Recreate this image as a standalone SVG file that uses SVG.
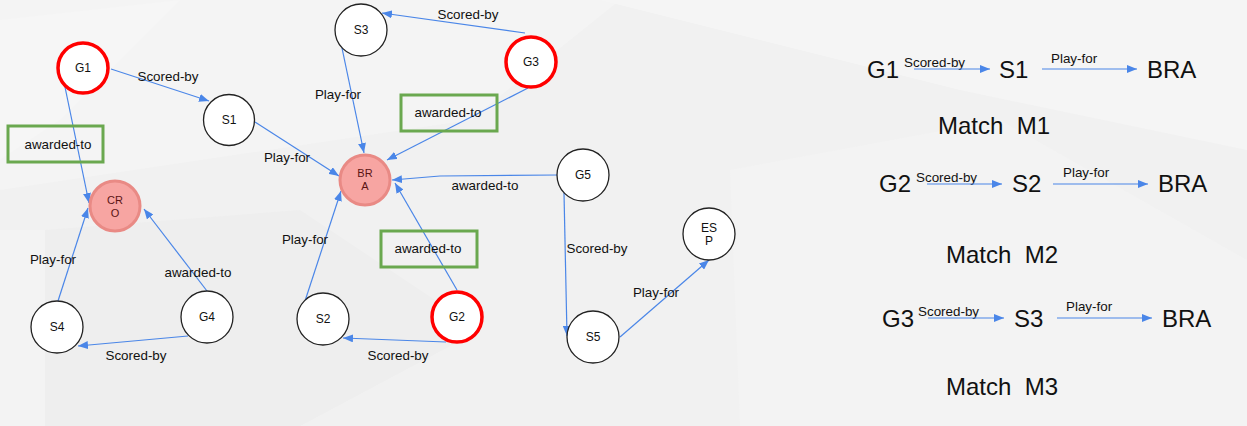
<svg xmlns="http://www.w3.org/2000/svg" width="1247" height="426" viewBox="0 0 1247 426">
<style>
  text { font-family: "Liberation Sans", Arial, sans-serif; fill: #111; }
  .node { fill: #fff; stroke: #222; stroke-width: 1.3; }
  .goal { fill: #fff; stroke: #f00; stroke-width: 3.5; }
  .team { fill: #f7a5a2; stroke: #e98a85; stroke-width: 3; }
  .nl { font-size: 12px; text-anchor: middle; }
  .tl { font-size: 11px; text-anchor: middle; fill: #5a1414; }
  .el { font-size: 13.4px; text-anchor: middle; }
  .box { fill: none; stroke: #6aa84f; stroke-width: 3; }
  .edge { stroke: #4a86e8; stroke-width: 1.2; fill: none; marker-end: url(#arr); }
  .big { font-size: 24px; }
  .sm { font-size: 13.4px; }
</style>
<defs>
  <marker id="arr" markerUnits="userSpaceOnUse" markerWidth="11" markerHeight="8" refX="10" refY="4" orient="auto">
    <path d="M0,0 L10,4 L0,8 z" fill="#4a86e8"/>
  </marker>
</defs>
<g id="background">
  <rect x="0" y="0" width="1247" height="426" fill="#f1f1f1"/>
  <polygon points="0,0 620,0 470,120 0,190" fill="#f4f4f4"/>
  <polygon points="0,20 180,0 60,120 0,160" fill="#f6f6f6"/>
  <polygon points="45,230 300,210 480,330 300,426 45,426" fill="#eeeeee"/>
  <polygon points="0,230 45,230 45,426 0,426" fill="#f3f3f3"/>
  <polygon points="600,0 1247,0 1247,150 960,90" fill="#f5f5f5"/>
  <polygon points="730,170 1000,120 1247,260 1247,426 740,426" fill="#f3f3f3"/>
</g>
<g id="connectors">
  <line class="edge" x1="111" y1="69" x2="209" y2="101"/>
  <line class="edge" x1="65" y1="87" x2="89" y2="203"/>
  <line class="edge" x1="255" y1="122" x2="339" y2="176"/>
  <line class="edge" x1="58" y1="301" x2="88" y2="208"/>
  <line class="edge" x1="207" y1="291" x2="144" y2="209"/>
  <line class="edge" x1="188" y1="336" x2="78" y2="346"/>
  <line class="edge" x1="342" y1="48" x2="364" y2="153"/>
  <line class="edge" x1="525" y1="33" x2="382" y2="13"/>
  <line class="edge" x1="528" y1="88" x2="387" y2="160"/>
  <polyline class="edge" points="558,175 440,176 392,180"/>
  <line class="edge" x1="305" y1="301" x2="341" y2="191"/>
  <line class="edge" x1="457" y1="290" x2="395" y2="183"/>
  <line class="edge" x1="446" y1="342" x2="343" y2="338"/>
  <line class="edge" x1="564" y1="193" x2="567" y2="336"/>
  <line class="edge" x1="620" y1="337" x2="709" y2="260"/>
  <text class="el" x="168" y="81">Scored-by</text>
  <text class="el" x="287" y="162">Play-for</text>
  <text class="el" x="53" y="264">Play-for</text>
  <text class="el" x="198" y="277">awarded-to</text>
  <text class="el" x="136" y="360">Scored-by</text>
  <text class="el" x="468" y="19">Scored-by</text>
  <text class="el" x="338" y="99">Play-for</text>
  <text class="el" x="485" y="190">awarded-to</text>
  <text class="el" x="305" y="244">Play-for</text>
  <text class="el" x="398" y="360">Scored-by</text>
  <text class="el" x="597" y="253">Scored-by</text>
  <text class="el" x="656" y="297">Play-for</text>
</g>
<g id="box1"><rect class="box" x="8" y="126" width="95" height="36"/><text class="el" x="58" y="149">awarded-to</text></g>
<g id="box2"><rect class="box" x="401" y="95" width="96" height="36"/><text class="el" x="448" y="117">awarded-to</text></g>
<g id="box3"><rect class="box" x="381" y="231" width="96" height="36"/><text class="el" x="428" y="253">awarded-to</text></g>
<g id="G1"><circle class="goal" cx="83" cy="68" r="25"/><text class="nl" x="83" y="72">G1</text></g>
<g id="S1"><circle class="node" cx="229" cy="120" r="25.5"/><text class="nl" x="229" y="124">S1</text></g>
<g id="CRO"><circle class="team" cx="115" cy="206" r="25"/><text class="tl" x="115" y="204">CR</text><text class="tl" x="115" y="217">O</text></g>
<g id="S4"><circle class="node" cx="57" cy="327" r="26"/><text class="nl" x="57" y="331">S4</text></g>
<g id="G4"><circle class="node" cx="207" cy="317" r="26"/><text class="nl" x="207" y="321">G4</text></g>
<g id="S3"><circle class="node" cx="361" cy="30" r="26"/><text class="nl" x="361" y="34">S3</text></g>
<g id="G3"><circle class="goal" cx="531" cy="62" r="25"/><text class="nl" x="531" y="66">G3</text></g>
<g id="BRA"><circle class="team" cx="365" cy="180" r="25"/><text class="tl" x="365" y="177">BR</text><text class="tl" x="365" y="190">A</text></g>
<g id="G5"><circle class="node" cx="583" cy="175" r="26"/><text class="nl" x="583" y="179">G5</text></g>
<g id="S2"><circle class="node" cx="323" cy="319" r="26"/><text class="nl" x="323" y="323">S2</text></g>
<g id="G2"><circle class="goal" cx="457" cy="317" r="25"/><text class="nl" x="457" y="321">G2</text></g>
<g id="S5"><circle class="node" cx="593" cy="337" r="26"/><text class="nl" x="593" y="341">S5</text></g>
<g id="ESP"><circle class="node" cx="709" cy="234" r="26"/><text class="nl" x="709" y="232">ES</text><text class="nl" x="709" y="245">P</text></g>
<g id="match1">
  <text class="big" x="867" y="78">G1</text>
  <text class="sm" x="904" y="67">Scored-by</text>
  <line class="edge" x1="914" y1="69" x2="990" y2="69"/>
  <text class="big" x="999" y="78">S1</text>
  <text class="sm" x="1051" y="63">Play-for</text>
  <line class="edge" x1="1042" y1="69" x2="1137" y2="69"/>
  <text class="big" x="1147" y="78">BRA</text>
  <text class="big" x="938" y="134" xml:space="preserve">Match  M1</text>
</g>
<g id="match2">
  <text class="big" x="879" y="192">G2</text>
  <text class="sm" x="916" y="182">Scored-by</text>
  <line class="edge" x1="927" y1="184" x2="1002" y2="184"/>
  <text class="big" x="1012" y="192">S2</text>
  <text class="sm" x="1063" y="177">Play-for</text>
  <line class="edge" x1="1053" y1="184" x2="1148" y2="184"/>
  <text class="big" x="1158" y="192">BRA</text>
  <text class="big" x="946" y="263" xml:space="preserve">Match  M2</text>
</g>
<g id="match3">
  <text class="big" x="882" y="327">G3</text>
  <text class="sm" x="918" y="316">Scored-by</text>
  <line class="edge" x1="928" y1="318" x2="1004" y2="318"/>
  <text class="big" x="1014" y="327">S3</text>
  <text class="sm" x="1066" y="311">Play-for</text>
  <line class="edge" x1="1057" y1="318" x2="1152" y2="318"/>
  <text class="big" x="1162" y="327">BRA</text>
  <text class="big" x="946" y="395" xml:space="preserve">Match  M3</text>
</g>
</svg>
